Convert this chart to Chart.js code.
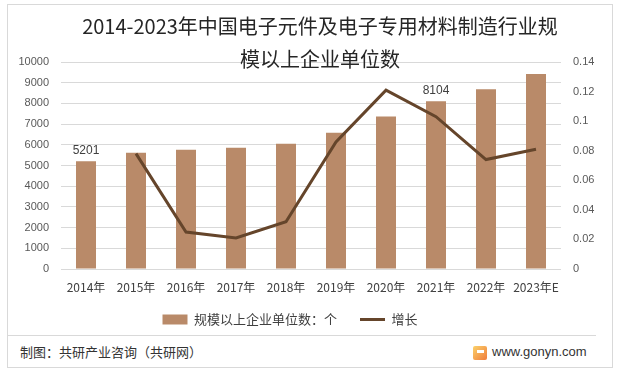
<!DOCTYPE html>
<html>
<head>
<meta charset="utf-8">
<script src="https://cdn.jsdelivr.net/npm/chart.js@4.4.1/dist/chart.umd.min.js"></script>
<style>
  body { margin: 0; background: #fff; }
  #wrap { position: relative; width: 619px; height: 373px; overflow: hidden; font-family: "Noto Sans CJK SC", sans-serif; }
  #frame { position: absolute; left: 7px; top: 4px; width: 606px; height: 364px; border: 1px solid #d9d9d9; box-sizing: border-box; }
  #chartBox { position: absolute; left: 0; top: 0; width: 619px; height: 336px; }
  .title { position: absolute; left: 0; width: 640px; text-align: center; font-size: 20px; line-height: 24px; color: #262626; }
  #rule { position: absolute; left: 7px; top: 335px; width: 589px; height: 1px; background: #d9d9d9; }
  #source { position: absolute; left: 20px; top: 343px; font-size: 13px; line-height: 18px; color: #333; }
  #site { position: absolute; left: 492px; top: 343px; font-family: "Liberation Sans", sans-serif; font-size: 13px; line-height: 18px; color: #333; }
  #logo { position: absolute; left: 473px; top: 346px; width: 14px; height: 14px; border-radius: 2px; background: linear-gradient(135deg, #fbd26a, #f07c3c); }
  #logo::after { content: ""; position: absolute; left: 4px; top: 4px; width: 7px; height: 3px; background: #fff; }
</style>
</head>
<body>
<div id="wrap">
  <div id="frame"></div>
  <div id="chartBox"><canvas id="chart" width="619" height="336"></canvas></div>
  <div class="title" style="top:14px">2014-2023年中国电子元件及电子专用材料制造行业规</div>
  <div class="title" style="top:47px">模以上企业单位数</div>
  <div id="rule"></div>
  <div id="source">制图：共研产业咨询（共研网）</div>
  <div id="logo"></div>
  <div id="site">www.gonyn.com</div>
</div>
<script>
const years = ['2014年', '2015年', '2016年', '2017年', '2018年', '2019年', '2020年', '2021年', '2022年', '2023年E'];
const companies = [5201, 5610, 5756, 5854, 6049, 6585, 7366, 8104, 8683, 9415];
const growth = [null, 0.078, 0.025, 0.021, 0.032, 0.086, 0.121, 0.103, 0.074, 0.081];
const labelled = [0, 7];   // bars that carry a value label

const CJK = '"Noto Sans CJK SC", sans-serif';
const BAR = '#b98a69';
const LINE = '#65452b';

// value labels above selected bars
const barLabels = {
    id: 'barLabels',
    afterDatasetsDraw(chart) {
        const meta = chart.getDatasetMeta(0);
        const ctx = chart.ctx;
        ctx.save();
        ctx.font = '12px "Liberation Sans", sans-serif';
        ctx.fillStyle = '#404040';
        ctx.textAlign = 'center';
        ctx.textBaseline = 'bottom';
        labelled.forEach(i => {
            const bar = meta.data[i];
            ctx.fillText(String(companies[i]), bar.x, bar.y - 5);
        });
        ctx.restore();
    }
};

new Chart(document.getElementById('chart'), {
    data: {
        labels: years,
        datasets: [
            {
                type: 'bar',
                label: '规模以上企业单位数：个\u3000',
                data: companies,
                backgroundColor: BAR,
                borderWidth: 0,
                barPercentage: 0.4,
                categoryPercentage: 1,
                pointStyle: 'rect',
                yAxisID: 'y',
                order: 2
            },
            {
                type: 'line',
                label: '增长\u3000\u3000\u3000',
                data: growth,
                borderColor: LINE,
                backgroundColor: LINE,
                borderWidth: 3,
                pointRadius: 0,
                pointStyle: 'line',
                tension: 0,
                yAxisID: 'y1',
                order: 1
            }
        ]
    },
    plugins: [barLabels],
    options: {
        responsive: false,
        devicePixelRatio: 1,
        animation: false,
        layout: { padding: { top: 62, left: 0, right: 0, bottom: 0 } },
        plugins: {
            title: { display: false },
            tooltip: { enabled: false },
            legend: {
                position: 'bottom',
                labels: {
                    usePointStyle: true,
                    pointStyleWidth: 25,
                    boxHeight: 10,
                    padding: 10,
                    color: '#404040',
                    font: { family: CJK, size: 13 },
                    sort: (a, b) => a.datasetIndex - b.datasetIndex
                }
            }
        },
        scales: {
            x: {
                grid: { display: false },
                border: { display: false },
                ticks: { color: '#404040', font: { family: CJK, size: 12 }, padding: 3, maxRotation: 0, autoSkip: false },
                afterFit: s => { s.height = 34; }
            },
            y: {
                position: 'left',
                min: 0,
                max: 10000,
                ticks: {
                    stepSize: 1000,
                    color: '#595959',
                    font: { family: '"Liberation Sans", sans-serif', size: 11 },
                    padding: 12,
                    callback: v => String(v)
                },
                grid: { color: '#d9d9d9', drawTicks: false },
                border: { display: false },
                afterFit: s => { s.width = 61; }
            },
            y1: {
                position: 'right',
                min: 0,
                max: 0.14,
                ticks: {
                    stepSize: 0.02,
                    color: '#595959',
                    font: { family: '"Liberation Sans", sans-serif', size: 11 },
                    padding: 12,
                    callback: v => String(Number(v.toFixed(2)))
                },
                grid: { drawOnChartArea: false, drawTicks: false },
                border: { display: false },
                afterFit: s => { s.width = 58; }
            }
        }
    }
});
</script>
</body>
</html>
